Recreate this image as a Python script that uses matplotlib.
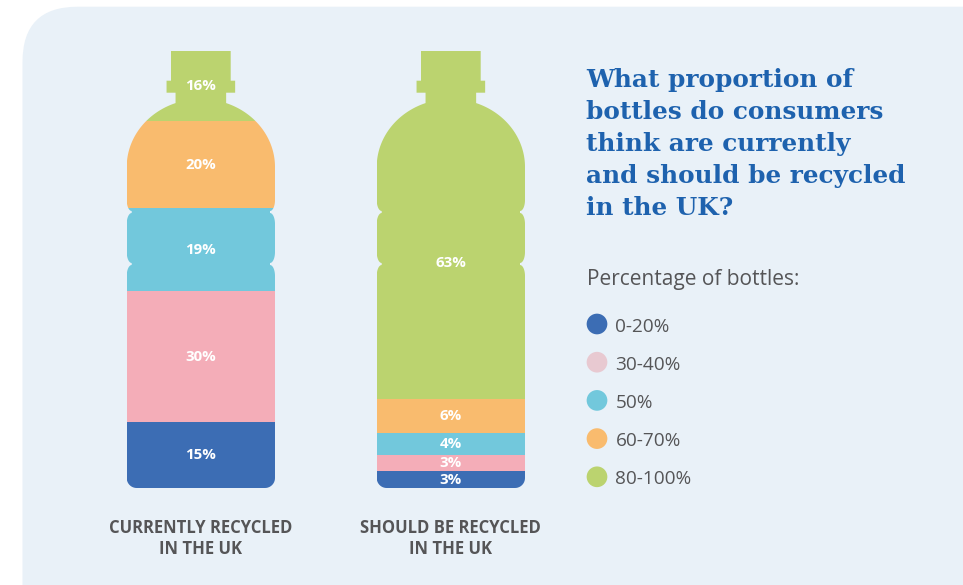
import numpy as np
import matplotlib
matplotlib.use("Agg")
import matplotlib.pyplot as plt
from matplotlib.path import Path
from matplotlib.patches import PathPatch, FancyBboxPatch

# data
bands = ["0-20%", "30-40%", "50%", "60-70%", "80-100%"]
currently = [15, 30, 19, 20, 16]
should_be = [3, 3, 4, 6, 63]
bottle_titles = ["CURRENTLY RECYCLED\nIN THE UK", "SHOULD BE RECYCLED\nIN THE UK"]
title = "What proportion of\nbottles do consumers\nthink are currently\nand should be recycled\nin the UK?"
legend_title = "Percentage of bottles:"

bottle_colors = ["#3c6db4", "#f4adb8", "#72c8dc", "#f9bb6e", "#bbd36f"]
legend_colors = ["#3c6db4", "#e8c9d1", "#72c8dc", "#f9bb6e", "#bbd36f"]
grey = "#555557"
navy = "#1e62ae"

W, H = 963, 585
fig = plt.figure(figsize=(W / 100, H / 100), dpi=100)
fig.patch.set_facecolor("white")

bg = fig.add_axes([0, 0, 1, 1])
bg.set_xlim(0, W)
bg.set_ylim(H, 0)
bg.axis("off")
bg.add_patch(FancyBboxPatch((22.5, 6.7), 1100, 800,
                            boxstyle="round,pad=0,rounding_size=55",
                            facecolor="#e9f1f8", edgecolor="none"))


def bottle_outline(bw, bh):
    # right edge in pixels: x from centre, t from top
    hw = bw / 2
    pts = [(29.85, 0), (29.85, 29.7), (34.3, 29.7), (34.3, 41.7), (25.3, 41.7)]
    phi0 = np.arcsin(25.3 / hw)
    for p in np.linspace(phi0, np.pi / 2, 40):
        pts.append((hw * np.sin(p), 116 - 68 * np.cos(p)))
    for g in (149, 201):
        pts.append((hw, g))
        for s in np.linspace(0, np.pi / 2, 12):
            pts.append((hw - 5 + 5 * np.cos(s), g + 11 * np.sin(s)))
        for s in np.linspace(0, np.pi / 2, 12):
            pts.append((hw - 5 + 5 * np.sin(s), g + 24 - 11 * np.cos(s)))
    r = 10
    pts.append((hw, bh - r))
    for s in np.linspace(0, np.pi / 2, 12):
        pts.append((hw - r + r * np.cos(s), bh - r + r * np.sin(s)))
    right = np.array(pts)
    left = right[::-1].copy()
    left[:, 0] *= -1
    xy = np.vstack([right, left])
    u = (xy[:, 0] + hw) / bw
    v = (bh - xy[:, 1]) / bh
    verts = np.column_stack([u, v])
    verts = np.vstack([verts, verts[:1]])
    codes = [Path.MOVETO] + [Path.LINETO] * (len(verts) - 2) + [Path.CLOSEPOLY]
    return Path(verts, codes)


bw, bh = 148.3, 437
bottle_left = [126.7, 376.7]
bottle_top = 51
label_pos = [None, {4: 0.516}]

for i, vals in enumerate([currently, should_be]):
    ax = fig.add_axes([bottle_left[i] / W, (H - bottle_top - bh) / H, bw / W, bh / H])
    ax.axis("off")
    total = sum(vals)
    ax.set_xlim(-0.5, 0.5)
    ax.set_ylim(0, total)
    clip = PathPatch(bottle_outline(bw, bh), transform=ax.transAxes,
                     facecolor="none", edgecolor="none")
    ax.add_patch(clip)
    bars = ax.bar(0, vals, width=1, bottom=np.cumsum([0] + vals[:-1]),
                  color=bottle_colors, linewidth=0)
    for b in bars:
        b.set_clip_path(clip)
    cum = 0
    for k, v in enumerate(vals):
        y = cum + v / 2
        if label_pos[i] and k in label_pos[i]:
            y = label_pos[i][k] * total
        ax.text(0, y, f"{v}%", ha="center", va="center", color="white",
                fontsize=10.8, fontweight="bold", family="Open Sans")
        cum += v
    cx = bottle_left[i] + bw / 2
    for j, line in enumerate(bottle_titles[i].split("\n")):
        bg.text(cx, 533 + 21.5 * j, line, ha="center", va="baseline", color=grey,
                fontsize=12, fontweight="bold", family="Open Sans")

for j, line in enumerate(title.split("\n")):
    bg.text(586, 86.5 + 32.1 * j, line, ha="left", va="baseline", color=navy,
            fontsize=17.8, fontweight="bold", family="DejaVu Serif")

bg.text(587, 285, legend_title, ha="left", va="baseline", color=grey,
        fontsize=15, family="Open Sans")
ys = 324 + 38.2 * np.arange(len(bands))
bg.scatter([597] * len(bands), ys, s=222, c=legend_colors, linewidths=0)
for y, lab in zip(ys, bands):
    bg.text(615.5, y + 7.5, lab, ha="left", va="baseline", color=grey,
            fontsize=13.7, family="Open Sans")

fig.savefig("out.png", dpi=100)
